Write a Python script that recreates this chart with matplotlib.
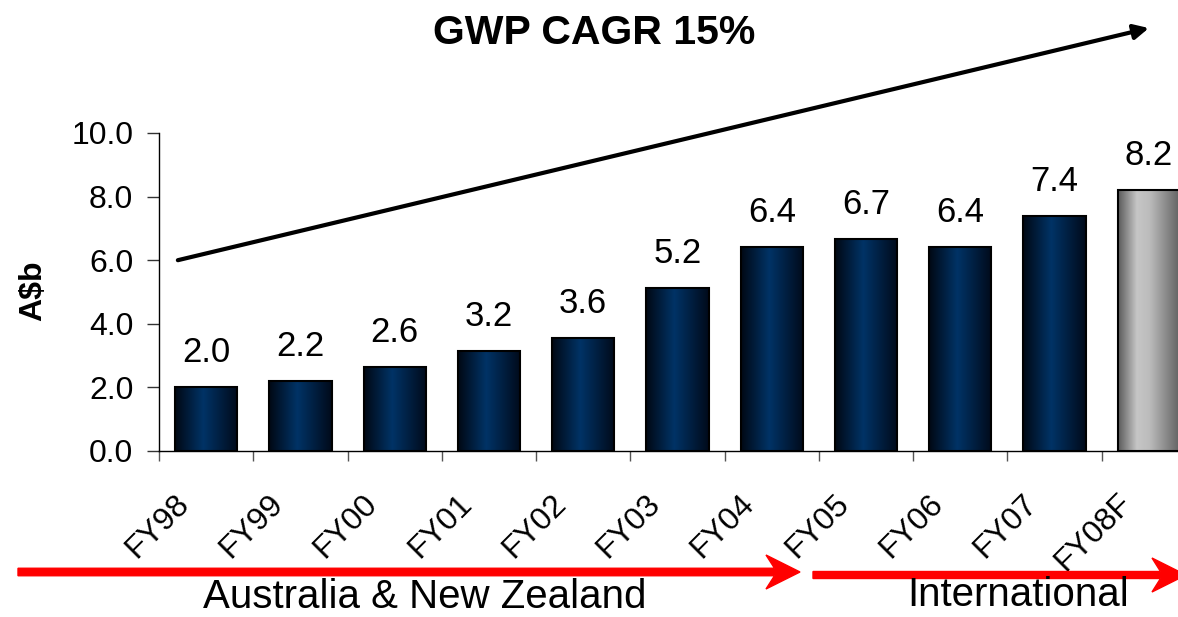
"""GWP 增长柱状图。

按财年绘制总毛保费 (GWP, A$b)，并标注复合年增长率与业务区域。
"""
import numpy as np
import matplotlib
matplotlib.use("Agg")
import matplotlib.pyplot as plt
from matplotlib.colors import LinearSegmentedColormap
from matplotlib.patches import FancyArrow
from matplotlib.transforms import ScaledTranslation

plt.rcParams['font.family'] = ['Liberation Sans', 'DejaVu Sans']

# 数据
years = ["FY98", "FY99", "FY00", "FY01", "FY02", "FY03",
         "FY04", "FY05", "FY06", "FY07", "FY08F"]
gwp = [2.0, 2.2, 2.65, 3.15, 3.55, 5.13, 6.42, 6.67, 6.42, 7.4, 8.2]
value_labels = ["2.0", "2.2", "2.6", "3.2", "3.6", "5.2",
                "6.4", "6.7", "6.4", "7.4", "8.2"]
is_forecast = [False] * 10 + [True]
y_ticks = [0, 2, 4, 6, 8, 10]
title = "GWP CAGR 15%"
region_names = ["Australia & New Zealand", "International"]

# 柱子渐变色
navy_cmap = LinearSegmentedColormap.from_list(
    "navy", [(0.0, "#000814"), (0.45, "#003366"), (1.0, "#000a1a")])
grey_cmap = LinearSegmentedColormap.from_list(
    "grey", [(0.0, "#5a5a5a"), (0.3, "#c6c6c6"), (0.5, "#bcbcbc"), (1.0, "#5e5e5e")])

W, H, DPI = 1178, 617, 100
fig = plt.figure(figsize=(W / DPI, H / DPI), dpi=DPI)
ax = fig.add_axes([159 / W, 166 / H, 1037 / W, 318 / H])

x = np.arange(len(years))
bars = ax.bar(x, gwp, width=0.66, color='none', edgecolor='black',
              linewidth=1.5, zorder=3)

grad = np.linspace(0, 1, 256).reshape(1, -1)
for bar, fc in zip(bars, is_forecast):
    x0 = bar.get_x()
    ax.imshow(grad, cmap=grey_cmap if fc else navy_cmap, aspect='auto',
              extent=(x0, x0 + bar.get_width(), 0, bar.get_height()),
              zorder=2, interpolation='bilinear')

# 数值标签
for xi, h, lbl in zip(x, gwp, value_labels):
    ax.annotate(lbl, (xi, h), xytext=(0, 18), textcoords='offset points',
                ha='center', va='baseline', fontsize=25)

ax.set_xlim(-0.5, len(years) - 0.5)
ax.set_ylim(0, 10)

# 坐标轴样式
for side in ['top', 'right']:
    ax.spines[side].set_visible(False)
for side in ['left', 'bottom']:
    ax.spines[side].set_linewidth(1.0)

ax.set_yticks(y_ticks)
ax.set_yticklabels([f"{v:.1f}" for v in y_ticks], fontsize=23)
ax.tick_params(axis='y', length=8.5, width=1, pad=10, color='#333333')

ax.set_xticks(x)
ax.set_xticklabels(years, rotation=45, ha='right', fontsize=23)
ax.set_xticks(np.arange(-0.5, len(years), 1), minor=True)
ax.tick_params(axis='x', which='major', length=0, pad=27)
ax.tick_params(axis='x', which='minor', length=7, width=1, color='#555555')
shift = ScaledTranslation(-11 / DPI, 0, fig.dpi_scale_trans)
for lab in ax.get_xticklabels():
    lab.set_transform(lab.get_transform() + shift)

# CAGR 箭头
ax.annotate("", xy=(10.0, 13.3), xytext=(-0.3, 6.0),
            arrowprops=dict(arrowstyle='-|>', color='black', lw=3,
                            mutation_scale=22, shrinkA=0, shrinkB=0),
            annotation_clip=False)

fig.text(594 / W, (H - 44) / H, title, ha='center', va='baseline',
         fontsize=29.5, fontweight='bold')
fig.text(33 / W, (H - 291) / H, r"A\$b", rotation=90, ha='center',
         va='center', fontsize=23, fontweight='bold')

# 区域红色箭头（单位：英寸）
inch = fig.dpi_scale_trans
fig.patches.append(FancyArrow(0.18, 0.45, 7.82, 0, width=0.075,
                              head_width=0.34, head_length=0.34, overhang=0.25,
                              length_includes_head=True, color='#ff0000',
                              transform=inch, figure=fig))
fig.patches.append(FancyArrow(8.13, 0.42, 3.73, 0, width=0.07,
                              head_width=0.34, head_length=0.34, overhang=0.25,
                              length_includes_head=True, color='#ff0000',
                              transform=inch, figure=fig))
fig.text(425 / W, 9 / H, region_names[0], ha='center', va='baseline', fontsize=29)
fig.text(1018 / W, 11 / H, region_names[1], ha='center', va='baseline', fontsize=29)

fig.savefig("out.png", dpi=DPI)
